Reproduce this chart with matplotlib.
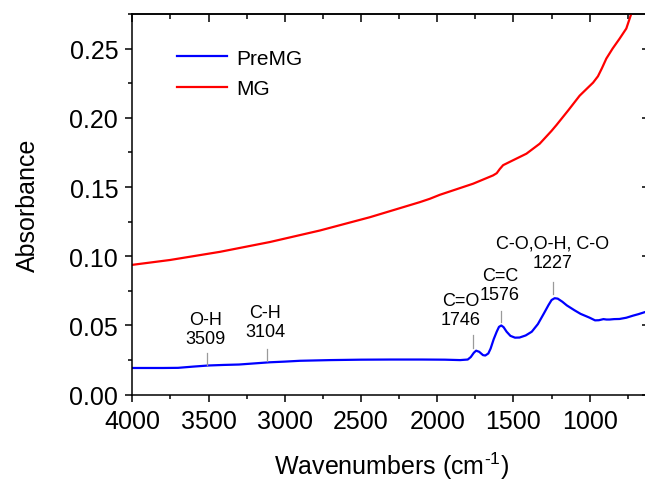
import matplotlib
matplotlib.use('Agg')
import matplotlib.pyplot as plt
from matplotlib.ticker import MultipleLocator, FixedLocator

plt.rcParams['font.family'] = ['Liberation Sans', 'DejaVu Sans']
plt.rcParams['mathtext.fontset'] = 'custom'
plt.rcParams['mathtext.rm'] = 'Liberation Sans'
plt.rcParams['mathtext.it'] = 'Liberation Sans:italic'
plt.rcParams['mathtext.default'] = 'regular'

# ---- data ----
premg_wn = [4000, 3800, 3700, 3600, 3500, 3400, 3300, 3200, 3100, 3000, 2900, 2700,
            2500, 2300, 2100, 1950, 1850, 1800, 1780, 1760, 1745, 1725, 1700, 1685,
            1665, 1650, 1630, 1610, 1595, 1580, 1565, 1545, 1520, 1490, 1460, 1420,
            1380, 1340, 1300, 1270, 1250, 1230, 1210, 1180, 1150, 1100, 1060, 1000,
            965, 940, 910, 890, 870, 840, 805, 760, 716, 680, 640, 600]
premg_abs = [0.0193, 0.0193, 0.0194, 0.0203, 0.0211, 0.0215, 0.0218, 0.0226, 0.0234, 0.0239,
             0.0245, 0.0250, 0.0253, 0.0254, 0.0254, 0.0253, 0.0250, 0.0254, 0.0272, 0.0303,
             0.0318, 0.0310, 0.0286, 0.0283, 0.0298, 0.0333, 0.0400, 0.0455, 0.0490, 0.0500,
             0.0488, 0.0455, 0.0425, 0.0412, 0.0413, 0.0428, 0.0455, 0.0510, 0.0588, 0.0648,
             0.0684, 0.0697, 0.0694, 0.0672, 0.0645, 0.0610, 0.0584, 0.0556, 0.0537, 0.0538,
             0.0546, 0.0543, 0.0543, 0.0546, 0.0547, 0.0556, 0.0571, 0.0582, 0.0596, 0.0608]

mg_wn = [4000, 3753, 3425, 3097, 2770, 2442, 2114, 2049, 1983, 1765, 1634, 1610,
         1590, 1568, 1513, 1415, 1328, 1251, 1218, 1140, 1066, 1010, 978, 946, 920, 891,
         850, 804, 760, 727, 690, 650, 600]
mg_abs = [0.0938, 0.0973, 0.1032, 0.1103, 0.1186, 0.1282, 0.1391, 0.1415, 0.1444, 0.1524,
          0.1584, 0.1600, 0.1630, 0.1658, 0.1688, 0.1741, 0.1813, 0.1905, 0.1948, 0.2055,
          0.2160, 0.2220, 0.2254, 0.2300, 0.2358, 0.2428, 0.2500, 0.2572, 0.2645, 0.2753,
          0.2840, 0.2930, 0.3040]

series_labels = ['PreMG', 'MG']

ann_labels = ['O-H\n3509', 'C-H\n3104', 'C=O\n1746', 'C=C\n1576', 'C-O,O-H, C-O\n1227']
ann_line_wn = [3512, 3119, 1764, 1582, 1243]
ann_line_y0 = [0.0215, 0.0246, 0.0337, 0.0524, 0.0728]
ann_line_y1 = [0.0302, 0.0330, 0.0433, 0.0607, 0.0813]
ann_text_wn = [3517, 3130, 1844, 1588, 1241]
ann_text_y = [0.0474, 0.0528, 0.0611, 0.0791, 0.1025]

x_major = [4000, 3500, 3000, 2500, 2000, 1500, 1000]
x_major_labels = ['4000', '3500', '3000', '2500', '2000', '1500', '1000']
y_major = [0.00, 0.05, 0.10, 0.15, 0.20, 0.25]
y_major_labels = ['0.00', '0.05', '0.10', '0.15', '0.20', '0.25']

# ---- figure ----
W, H = 645, 481
fig = plt.figure(figsize=(W / 100, H / 100), dpi=100)
left_px, right_px, top_px, bot_px = 132.3, 650.7, 15.0, 395.7
ax = fig.add_axes([left_px / W, 1 - bot_px / H, (right_px - left_px) / W, (bot_px - top_px) / H])

ax.plot(premg_wn, premg_abs, color='#0000ff', lw=1.6, label=series_labels[0])
ax.plot(mg_wn, mg_abs, color='#ff0000', lw=1.6, label=series_labels[1])

ax.set_xlim(4000, 600)
ax.set_ylim(0, 0.275)

ax.xaxis.set_major_locator(FixedLocator(x_major))
ax.set_xticklabels(x_major_labels)
ax.xaxis.set_minor_locator(MultipleLocator(250))
ax.yaxis.set_major_locator(FixedLocator(y_major))
ax.set_yticklabels(y_major_labels)
ax.yaxis.set_minor_locator(MultipleLocator(0.025))

for sp in ax.spines.values():
    sp.set_linewidth(1.1)

ax.tick_params(which='major', direction='out', length=5.2, width=1.1, labelsize=18, pad=5)
ax.tick_params(which='minor', direction='out', length=3.2, width=1.1)

secx = ax.secondary_xaxis('top')
secx.xaxis.set_major_locator(FixedLocator(x_major))
secx.xaxis.set_minor_locator(MultipleLocator(250))
secx.tick_params(which='major', direction='in', length=6, width=1.1, labeltop=False)
secx.tick_params(which='minor', direction='in', length=3.5, width=1.1)
secx.spines['top'].set_linewidth(1.1)

secy = ax.secondary_yaxis('right')
secy.yaxis.set_major_locator(FixedLocator(y_major))
secy.yaxis.set_minor_locator(MultipleLocator(0.025))
secy.tick_params(which='major', direction='in', length=6.5, width=1.1, labelright=False)
secy.tick_params(which='minor', direction='in', length=3.5, width=1.1)

ax.set_xlabel(r'Wavenumbers (cm$^{\text{-}1}$)', fontsize=18, labelpad=12)
ax.set_ylabel('Absorbance', fontsize=18, labelpad=21)

for lab, lx, y0, y1, tx, ty in zip(ann_labels, ann_line_wn, ann_line_y0, ann_line_y1,
                                   ann_text_wn, ann_text_y):
    ax.plot([lx, lx], [y0, y1], color='#9a9a9a', lw=0.9)
    ax.text(tx, ty, lab, ha='center', va='center', fontsize=13, linespacing=1.15)

ax.legend(loc='upper left', bbox_to_anchor=(0.086, 0.909), frameon=False, fontsize=15,
          handlelength=2.4, handletextpad=0.45, labelspacing=0.55, borderpad=0,
          borderaxespad=0)

fig.savefig('out.png', dpi=100)
